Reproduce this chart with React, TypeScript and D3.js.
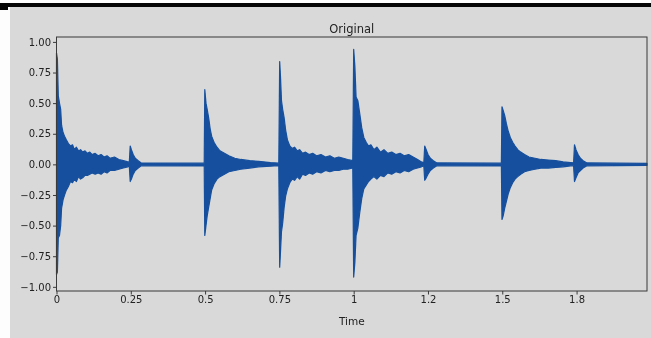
import React, { useEffect, useRef } from 'react';
import * as d3 from 'd3';

// envelope samples: [time (s), max, min]
type Env = [number, number, number];

const hit1: Env[] = [
  [0.000, 0.91, -0.90], [0.003, 0.86, -0.88], [0.006, 0.56, -0.60], [0.010, 0.50, -0.58],
  [0.014, 0.45, -0.50], [0.017, 0.32, -0.36], [0.022, 0.26, -0.29], [0.027, 0.23, -0.25],
  [0.033, 0.20, -0.21], [0.040, 0.17, -0.18], [0.047, 0.15, -0.14], [0.054, 0.16, -0.15],
  [0.060, 0.12, -0.12], [0.067, 0.14, -0.14], [0.074, 0.11, -0.10], [0.081, 0.12, -0.12],
  [0.088, 0.10, -0.11], [0.096, 0.11, -0.09], [0.104, 0.09, -0.09], [0.112, 0.10, -0.08],
  [0.120, 0.08, -0.07], [0.130, 0.09, -0.08], [0.140, 0.07, -0.07], [0.150, 0.08, -0.08],
  [0.160, 0.06, -0.06], [0.170, 0.07, -0.07], [0.180, 0.05, -0.05], [0.195, 0.06, -0.05],
  [0.210, 0.04, -0.04], [0.225, 0.03, -0.03], [0.240, 0.02, -0.02], [0.245, 0.015, -0.015],
  [0.248, 0.15, -0.14], [0.252, 0.12, -0.12], [0.258, 0.08, -0.08], [0.265, 0.05, -0.05],
  [0.275, 0.03, -0.03], [0.285, 0.012, -0.012], [0.497, 0.01, -0.01],
];

const hit2: Env[] = [
  [0.499, 0.61, -0.58], [0.503, 0.50, -0.50], [0.507, 0.45, -0.42], [0.512, 0.38, -0.35],
  [0.517, 0.29, -0.28], [0.522, 0.23, -0.21], [0.530, 0.18, -0.16], [0.540, 0.14, -0.12],
  [0.550, 0.11, -0.10], [0.565, 0.09, -0.08], [0.580, 0.07, -0.06], [0.600, 0.05, -0.05],
  [0.620, 0.04, -0.04], [0.650, 0.03, -0.03], [0.680, 0.025, -0.02], [0.720, 0.015, -0.015],
  [0.748, 0.01, -0.01],
];

const hit3: Env[] = [
  [0.751, 0.84, -0.84], [0.754, 0.70, -0.70], [0.757, 0.52, -0.55], [0.761, 0.45, -0.48],
  [0.766, 0.38, -0.35], [0.771, 0.28, -0.26], [0.777, 0.20, -0.20], [0.785, 0.15, -0.15],
  [0.793, 0.13, -0.12], [0.801, 0.14, -0.13], [0.810, 0.11, -0.10], [0.818, 0.12, -0.12],
  [0.828, 0.09, -0.08], [0.838, 0.10, -0.09], [0.850, 0.08, -0.07], [0.862, 0.09, -0.08],
  [0.875, 0.07, -0.06], [0.890, 0.08, -0.07], [0.905, 0.06, -0.05], [0.920, 0.07, -0.06],
  [0.935, 0.05, -0.05], [0.950, 0.06, -0.05], [0.965, 0.05, -0.04], [0.980, 0.04, -0.04],
  [0.997, 0.03, -0.03],
];

const hit4: Env[] = [
  [1.000, 0.94, -0.92], [1.004, 0.80, -0.80], [1.008, 0.55, -0.58], [1.014, 0.52, -0.52],
  [1.020, 0.42, -0.40], [1.027, 0.30, -0.28], [1.034, 0.22, -0.20], [1.042, 0.18, -0.17],
  [1.050, 0.15, -0.14], [1.058, 0.16, -0.12], [1.068, 0.12, -0.10], [1.078, 0.14, -0.12],
  [1.090, 0.10, -0.09], [1.102, 0.12, -0.10], [1.115, 0.09, -0.07], [1.128, 0.10, -0.08],
  [1.142, 0.08, -0.06], [1.156, 0.09, -0.07], [1.170, 0.07, -0.05], [1.185, 0.08, -0.06],
  [1.200, 0.06, -0.04], [1.215, 0.04, -0.03], [1.228, 0.02, -0.02], [1.236, 0.012, -0.012],
  [1.239, 0.15, -0.13], [1.244, 0.12, -0.11], [1.250, 0.08, -0.08], [1.258, 0.05, -0.05],
  [1.268, 0.03, -0.03], [1.280, 0.012, -0.012], [1.497, 0.01, -0.01],
];

const hit5: Env[] = [
  [1.499, 0.47, -0.45], [1.503, 0.44, -0.42], [1.508, 0.40, -0.36], [1.514, 0.33, -0.30],
  [1.520, 0.27, -0.24], [1.527, 0.22, -0.19], [1.535, 0.18, -0.15], [1.543, 0.15, -0.12],
  [1.552, 0.12, -0.10], [1.562, 0.10, -0.08], [1.575, 0.08, -0.06], [1.590, 0.06, -0.05],
  [1.610, 0.05, -0.04], [1.630, 0.04, -0.03], [1.655, 0.035, -0.03], [1.680, 0.03, -0.025],
  [1.705, 0.02, -0.02], [1.730, 0.015, -0.012], [1.740, 0.012, -0.012],
  [1.743, 0.16, -0.14], [1.748, 0.12, -0.11], [1.755, 0.08, -0.07], [1.763, 0.05, -0.05],
  [1.772, 0.03, -0.03], [1.785, 0.012, -0.012], [1.987, 0.008, -0.008],
];

const xTickValues = [0, 0.25, 0.5, 0.75, 1, 1.25, 1.5, 1.75];
const xTickLabels = ['0', '0.25', '0.5', '0.75', '1', '1.2', '1.5', '1.8'];
const yTickValues = [1, 0.75, 0.5, 0.25, 0, -0.25, -0.5, -0.75, -1];
const yTickLabels = ['1.00', '0.75', '0.50', '0.25', '0.00', '−0.25', '−0.50', '−0.75', '−1.00'];
const duration = 1.987;
const yLimits = [-1.034, 1.04];

const width = 651;
const height = 338;

const App: React.FC = () => {
  const svgRef = useRef<SVGSVGElement>(null);

  useEffect(() => {
    if (!svgRef.current) return;
    const svg = d3.select(svgRef.current);
    svg.selectAll('*').remove();

    const font = '"DejaVu Sans", sans-serif';
    const left = 56.5, right = 647, top = 37, bottom = 291;

    // page frame (white edge, black bar, grey figure)
    svg.append('rect').attr('width', width).attr('height', height).attr('fill', '#fdfdfd');
    svg.append('rect').attr('x', 10).attr('y', 6).attr('width', width - 10).attr('height', height - 6).attr('fill', '#d9d9d9');
    svg.append('rect').attr('x', 0).attr('y', 3).attr('width', width).attr('height', 4).attr('fill', '#050505');
    svg.append('rect').attr('x', 0).attr('y', 3).attr('width', 8).attr('height', 7).attr('fill', '#050505');

    const defs = svg.append('defs');
    defs.append('filter').attr('id', 'soft')
      .append('feGaussianBlur').attr('stdDeviation', 0.75);

    const g = svg.append('g').attr('filter', 'url(#soft)');

    const x = d3.scaleLinear().domain([0, duration]).range([left, right]);
    const y = d3.scaleLinear().domain(yLimits).range([bottom, top]);

    const env = [...hit1, ...hit2, ...hit3, ...hit4, ...hit5];
    const area = d3.area<Env>()
      .x(d => x(d[0]))
      .y0(d => y(d[2]))
      .y1(d => y(d[1]));

    g.append('path')
      .datum(env)
      .attr('d', area)
      .attr('fill', '#15509e')
      .attr('stroke', '#15509e')
      .attr('stroke-width', 1.2)
      .attr('stroke-linejoin', 'round');

    // spines
    g.append('rect')
      .attr('x', left).attr('y', top)
      .attr('width', right - left).attr('height', bottom - top)
      .attr('fill', 'none').attr('stroke', '#3a3a3a').attr('stroke-width', 1);

    const xAxis = g.append('g')
      .attr('transform', `translate(0,${bottom})`)
      .call(d3.axisBottom(x)
        .tickValues(xTickValues)
        .tickFormat((_d, i) => xTickLabels[i])
        .tickSize(3.5)
        .tickPadding(1.5));
    xAxis.select('.domain').remove();

    const yAxis = g.append('g')
      .attr('transform', `translate(${left},0)`)
      .call(d3.axisLeft(y)
        .tickValues(yTickValues)
        .tickFormat((_d, i) => yTickLabels[i])
        .tickSize(3.5)
        .tickPadding(2));
    yAxis.select('.domain').remove();

    [xAxis, yAxis].forEach(ax => {
      ax.selectAll('line').attr('stroke', '#3a3a3a');
      ax.selectAll('text')
        .attr('fill', '#222')
        .style('font-family', font)
        .style('font-size', '10px');
    });

    g.append('text')
      .attr('x', (left + right) / 2)
      .attr('y', 33)
      .attr('text-anchor', 'middle')
      .style('font-family', font)
      .style('font-size', '11.5px')
      .attr('fill', '#222')
      .text('Original');

    g.append('text')
      .attr('x', (left + right) / 2)
      .attr('y', 325)
      .attr('text-anchor', 'middle')
      .style('font-family', font)
      .style('font-size', '10.5px')
      .attr('fill', '#222')
      .text('Time');
  }, []);

  return (
    <div style={{ position: 'absolute', left: 0, top: 0 }}>
      <svg ref={svgRef} width={width} height={height} style={{ display: 'block' }} />
    </div>
  );
};

export default App;
